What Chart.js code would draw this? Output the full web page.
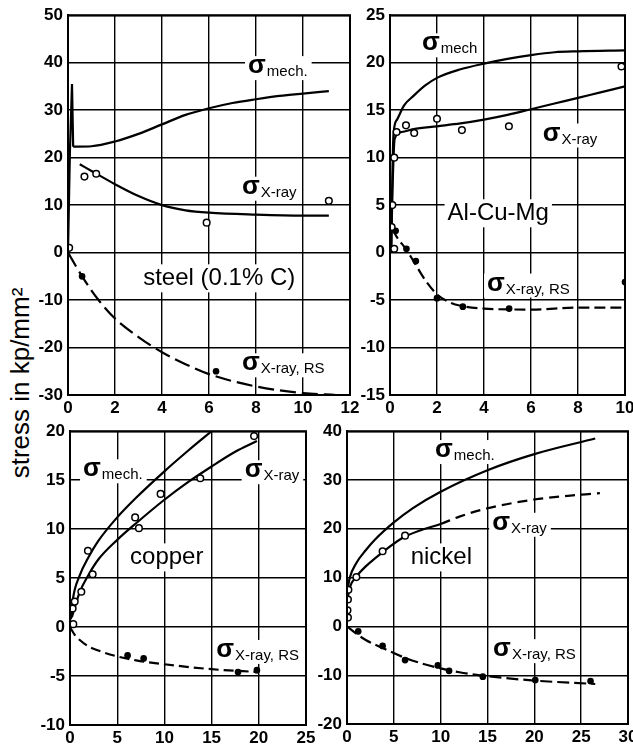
<!DOCTYPE html>
<html>
<head>
<meta charset="utf-8">
<script src="https://cdn.jsdelivr.net/npm/chart.js@4"></script>
<style>
  body { margin: 0; background: #fff; width: 633px; height: 753px; overflow: hidden; position: relative; }
  canvas { position: absolute; }
  #ytitle {
    position: absolute; left: -130px; top: 368px; width: 300px; height: 30px;
    line-height: 30px; text-align: center; transform: rotate(-90deg);
    font: 26px 'Liberation Sans', Arial, sans-serif; color: #000; white-space: nowrap;
  }
</style>
</head>
<body>
<div id="ytitle">stress in kp/mm²</div>
<script>
// steel (0.1% C)
const steelMechSpike = [[0, 0], [0.08, 21], [0.17, 35.5], [0.22, 22.3]];
const steelMech = [[0.22, 22.3], [1, 22.4], [2, 23.4], [3, 25], [4, 27], [5, 29], [6, 30.4], [7, 31.5], [8, 32.3], [9, 33], [10, 33.5], [11.1, 34]];
const steelXray = [[0.5, 18.6], [1, 17.2], [2, 14.4], [3, 11.9], [4, 10], [5, 8.9], [6, 8.4], [8, 8], [10, 7.8], [11.1, 7.8]];
const steelXrayPts = [[0.05, 1], [0.7, 16], [1.2, 16.6], [5.9, 6.3], [11.1, 10.9]];
const steelRs = [[0, 0], [0.6, -5], [1.3, -10], [2, -13.9], [3, -17.8], [4, -21], [5, -23.5], [6, -25.6], [8, -28.2], [10, -29.6], [11.4, -30]];
const steelRsPts = [[0.6, -5], [6.3, -25]];

// Al-Cu-Mg
const alMech = [[0.05, 0], [0.1, 8], [0.15, 12.5], [0.3, 14], [0.6, 15.5], [1, 16.5], [1.5, 17.6], [2, 18.4], [3, 19.3], [4, 19.9], [5, 20.4], [6, 20.8], [7, 21.1], [8, 21.2], [10, 21.3]];
const alXray = [[0.05, 0], [0.1, 6], [0.2, 12], [0.5, 12.7], [1, 13], [2, 13.3], [3, 13.6], [4, 14], [5, 14.5], [6, 15.1], [7, 15.7], [8, 16.3], [9, 16.9], [10, 17.5]];
const alXrayPts = [[0.18, 0.4], [0.07, 2.7], [0.1, 5], [0.18, 10], [0.28, 12.7], [0.68, 13.4], [1.03, 12.6], [2, 14.1], [3.06, 12.9], [5.06, 13.3], [9.85, 19.6]];
const alRs = [[0.1, 2.5], [0.3, 1.6], [0.7, 0.3], [1, -0.9], [1.5, -2.9], [2, -4.4], [2.5, -5.2], [3, -5.6], [4, -5.9], [6, -6], [8, -5.8], [10, -5.8]];
const alRsPts = [[0.24, 2.3], [0.7, 0.4], [1.1, -0.9], [2, -4.8], [3.1, -5.7], [5.07, -5.9], [10, -3.1]];

// copper
const cuMech = [[0.1, 0.8], [0.3, 2.8], [1, 5.2], [2, 7.2], [3, 8.8], [5, 11.2], [7, 13.2], [10, 15.9], [12.5, 18], [15, 20]];
const cuXray = [[0.2, 1], [1, 3.5], [2, 5.4], [3, 6.9], [5, 8.9], [7, 10.6], [10, 13], [12.5, 14.8], [15, 16.4], [17.5, 17.9], [19.8, 19]];
const cuXrayPts = [[0.35, 0.3], [0.28, 1.9], [0.5, 2.6], [1.2, 3.6], [2.4, 5.4], [1.9, 7.8], [6.9, 11.2], [7.3, 10.1], [9.6, 13.6], [13.8, 15.2], [19.5, 19.5]];
const cuRs = [[0, 0], [0.5, -0.8], [1, -1.3], [2, -2], [3, -2.4], [5, -3], [7, -3.4], [10, -3.8], [15, -4.3], [20, -4.6]];
const cuRsPts = [[6.1, -2.9], [7.8, -3.2], [17.8, -4.6], [19.8, -4.4]];

// nickel
const niMech = [[0, 7], [0.3, 10], [1, 13], [2, 15.6], [3, 17.8], [5, 21.3], [7, 24.2], [10, 27.6], [15, 32], [20, 35.3], [26.5, 38.5]];
const niXray = [[0, 5], [0.3, 8], [1, 10.2], [2, 12.3], [4, 15.5], [6, 18.2], [8, 19.8], [10, 21], [12, 22.5], [15, 24.2], [20, 26], [25, 27], [27, 27.3]];
const niXrayPts = [[0.1, 1.8], [0.05, 3.3], [0.1, 5.5], [0.15, 7.5], [1, 10.1], [3.8, 15.4], [6.2, 18.6]];
const niRs = [[0, 0], [1, -1.5], [2, -2.8], [4, -4.6], [6, -6.3], [8, -7.6], [10, -8.6], [12, -9.4], [15, -10.2], [20, -11.1], [26.5, -11.8]];
const niRsPts = [[1.2, -1], [3.8, -4], [6.2, -6.9], [9.7, -8], [10.9, -9.1], [14.5, -10.3], [20.1, -11], [26, -11.2]];

const FAMILY = "'Liberation Sans', Arial, sans-serif";
const PAD_L = 50, PAD_R = 15, PAD_T = 14, PAD_B = 30;

function toXY(arr) {
    return arr.map(([x, y]) => ({ x, y }));
}

function curve(arr, dash, mode) {
    return {
        data: toXY(arr),
        showLine: true,
        borderColor: '#000',
        borderWidth: 2.2,
        pointRadius: 0,
        borderDash: dash || [],
        cubicInterpolationMode: mode === 'straight' ? 'default' : 'monotone',
        tension: mode === 'straight' ? 0 : 0.4,
        order: 2
    };
}

function marks(arr, open) {
    return {
        data: toXY(arr),
        showLine: false,
        pointRadius: open ? 3.3 : 2.6,
        pointBackgroundColor: open ? '#fff' : '#000',
        pointBorderColor: '#000',
        pointBorderWidth: 1.5,
        order: 1
    };
}

const panels = [
    {
        area: [68, 14, 350, 395], x: [0, 12, 2], y: [-30, 50, 10],
        datasets: [
            curve(steelMechSpike, null, 'straight'), curve(steelMech),
            curve(steelXray), marks(steelXrayPts, true),
            curve(steelRs, [16, 6]), marks(steelRsPts, false)
        ],
        labels: [
            { x: 7.66, y: 37.8, sub: 'mech.' },
            { x: 7.4, y: 12.4, sub: 'X-ray' },
            { x: 3.2, y: -6.9, text: 'steel (0.1% C)' },
            { x: 7.4, y: -24.8, sub: 'X-ray, RS' }
        ]
    },
    {
        area: [390, 14, 625, 395], x: [0, 10, 2], y: [-15, 25, 5],
        datasets: [
            curve(alMech), curve(alXray), marks(alXrayPts, true),
            curve(alRs, [11, 5]), marks(alRsPts, false)
        ],
        labels: [
            { x: 1.36, y: 21.3, sub: 'mech' },
            { x: 6.5, y: 11.8, sub: 'X-ray' },
            { x: 2.45, y: 3.4, text: 'Al-Cu-Mg' },
            { x: 4.13, y: -4.0, sub: 'X-ray, RS' }
        ]
    },
    {
        area: [70, 430, 306, 725], x: [0, 25, 5], y: [-10, 20, 5],
        datasets: [
            curve(cuMech), curve(cuXray), marks(cuXrayPts, true),
            curve(cuRs, [10, 5]), marks(cuRsPts, false)
        ],
        labels: [
            { x: 1.38, y: 15.4, sub: 'mech.' },
            { x: 18.5, y: 15.3, sub: 'X-ray' },
            { x: 6.36, y: 6.4, text: 'copper' },
            { x: 15.5, y: -3.05, sub: 'X-ray, RS' }
        ]
    },
    {
        area: [347, 430, 628, 724], x: [0, 30, 5], y: [-20, 40, 10],
        datasets: [
            curve(niMech),
            Object.assign(curve(niXray), {
                segment: { borderDash: ctx => ctx.p0.parsed.x >= 10 ? [10, 6] : undefined }
            }),
            marks(niXrayPts, true),
            curve(niRs, [12, 5]), marks(niRsPts, false)
        ],
        labels: [
            { x: 9.4, y: 34.7, sub: 'mech.' },
            { x: 15.5, y: 19.8, sub: 'X-ray' },
            { x: 6.8, y: 12.7, text: 'nickel' },
            { x: 15.6, y: -6.1, sub: 'X-ray, RS' }
        ]
    }
];

// white patches behind the curve names, then the names themselves
function makeLabels(items) {
    return {
        id: 'panelLabels',
        beforeDatasetsDraw(chart) {
            const { ctx, scales } = chart;
            items.forEach(it => {
                const px = scales.x.getPixelForValue(it.x);
                const py = scales.y.getPixelForValue(it.y);
                ctx.save();
                ctx.textAlign = 'left';
                ctx.textBaseline = 'alphabetic';
                if (it.text) {
                    ctx.font = '24px ' + FAMILY;
                    const w = ctx.measureText(it.text).width;
                    ctx.fillStyle = '#fff';
                    ctx.fillRect(px - 3, py - 21, w + 6, 28);
                    ctx.fillStyle = '#000';
                    ctx.fillText(it.text, px, py);
                } else {
                    ctx.font = 'bold 26px ' + FAMILY;
                    const ws = ctx.measureText('σ').width;
                    ctx.font = '15px ' + FAMILY;
                    const wsub = ctx.measureText(it.sub).width;
                    ctx.fillStyle = '#fff';
                    ctx.fillRect(px - 3, py - 17, ws + wsub + 8, 24);
                    ctx.fillStyle = '#000';
                    ctx.font = 'bold 26px ' + FAMILY;
                    ctx.fillText('σ', px, py);
                    ctx.font = '15px ' + FAMILY;
                    ctx.fillText(it.sub, px + ws + 1, py + 3);
                }
                ctx.restore();
            });
        }
    };
}

const frame = {
    id: 'frame',
    afterDraw(chart) {
        const { ctx, chartArea: a } = chart;
        ctx.save();
        ctx.strokeStyle = '#000';
        ctx.lineWidth = 2;
        ctx.strokeRect(a.left, a.top, a.right - a.left, a.bottom - a.top);
        ctx.restore();
    }
};

function axis(range, isX) {
    return {
        type: 'linear',
        min: range[0],
        max: range[1],
        ticks: {
            stepSize: range[2],
            color: '#000',
            font: { family: FAMILY, size: 17, weight: 'bold' },
            padding: isX ? 3 : 5,
            maxRotation: 0,
            autoSkip: false
        },
        grid: { color: '#000', lineWidth: 1.4, drawTicks: false },
        border: { color: '#000', width: 2 },
        afterFit: s => {
            if (isX) s.height = PAD_B; else s.width = PAD_L;
        }
    };
}

panels.forEach(p => {
    const [l, t, r, b] = p.area;
    const c = document.createElement('canvas');
    c.width = r - l + PAD_L + PAD_R;
    c.height = b - t + PAD_T + PAD_B;
    c.style.left = (l - PAD_L) + 'px';
    c.style.top = (t - PAD_T) + 'px';
    document.body.appendChild(c);

    new Chart(c, {
        type: 'scatter',
        data: { datasets: p.datasets },
        options: {
            responsive: false,
            animation: false,
            layout: { padding: { top: PAD_T, right: PAD_R, left: 0, bottom: 0 }, autoPadding: false },
            plugins: { legend: { display: false }, tooltip: { enabled: false } },
            scales: { x: axis(p.x, true), y: axis(p.y, false) }
        },
        plugins: [makeLabels(p.labels), frame]
    });
});
</script>
</body>
</html>
